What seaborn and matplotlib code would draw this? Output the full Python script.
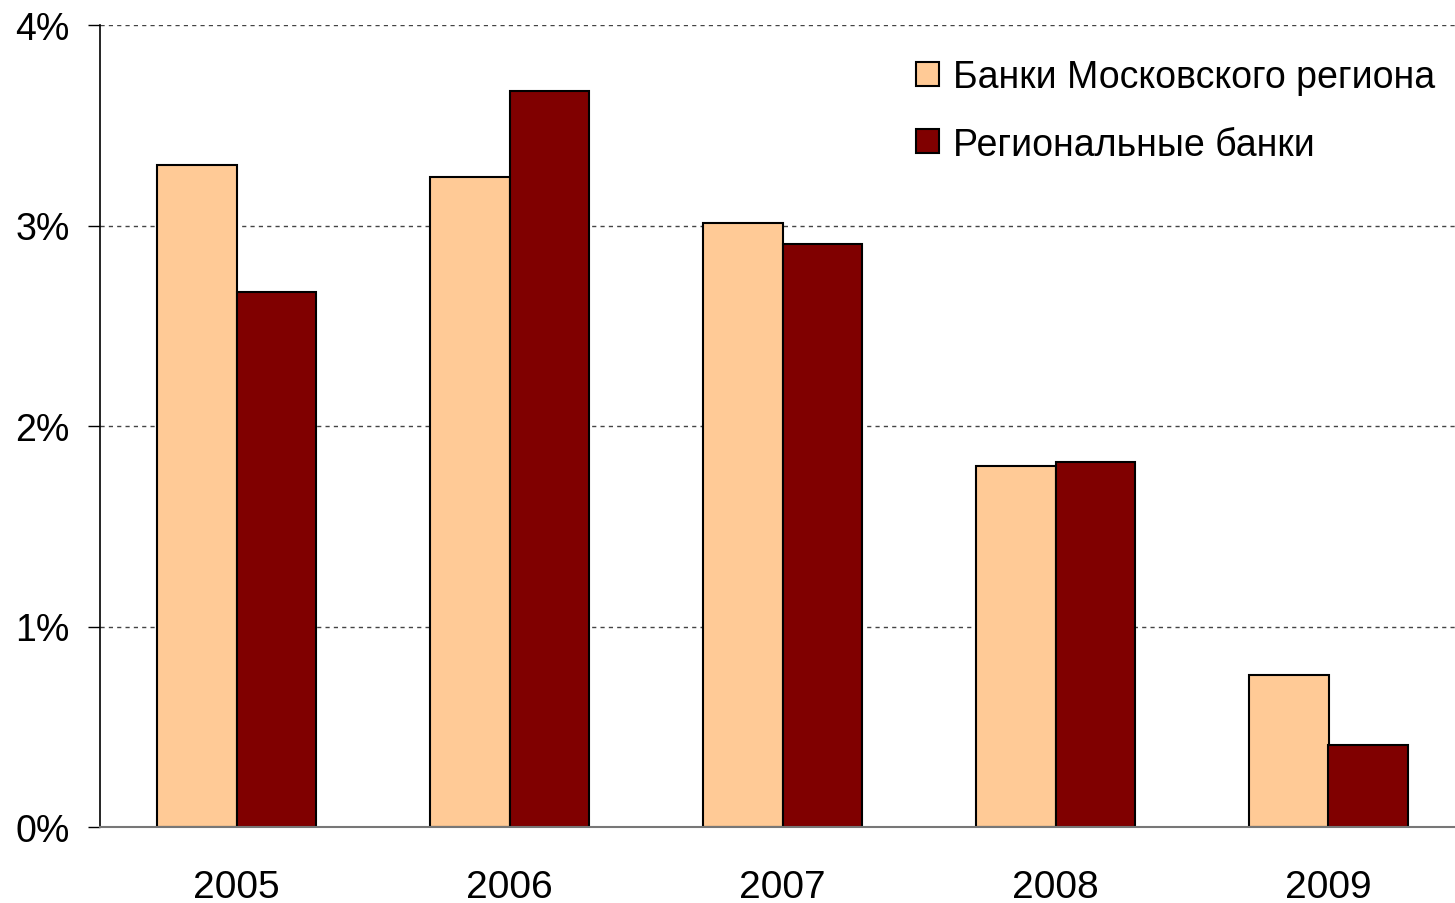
"""
Bank margin by region group, 2005-2009: grouped bar chart.
"""

import matplotlib.pyplot as plt
import pandas as pd
import seaborn as sns
from matplotlib.ticker import FuncFormatter

years = ["2005", "2006", "2007", "2008", "2009"]
moscow = [3.30, 3.24, 3.01, 1.80, 0.76]
regional = [2.67, 3.67, 2.91, 1.82, 0.41]
series_names = ["Банки Московского региона", "Региональные банки"]
colors = ["#FFCA96", "#800000"]

df = pd.DataFrame({
    "year": years * 2,
    "value": moscow + regional,
    "group": [series_names[0]] * len(years) + [series_names[1]] * len(years),
})

sns.set_style("white")
plt.rcParams["font.family"] = ["Liberation Sans", "DejaVu Sans"]
plt.rcParams["text.color"] = "black"

fig = plt.figure(figsize=(14.55, 9.04), dpi=100)
ax = fig.add_axes([100 / 1455, 76 / 904, 1365 / 1455, 802 / 904])

sns.barplot(data=df, x="year", y="value", hue="group", palette=colors,
            saturation=1, width=0.58, edgecolor="black", linewidth=1.5, ax=ax)

ax.set_xlim(-0.5, 4.5)
ax.set_ylim(0, 4)
ax.set_yticks([0, 1, 2, 3, 4])
ax.yaxis.set_major_formatter(FuncFormatter(lambda v, _: f"{v:.0f}%"))
ax.set_xlabel("")
ax.set_ylabel("")

for y in [1, 2, 3, 4]:
    ax.axhline(y, color="#444444", linestyle=(0, (3, 3)), linewidth=1, zorder=0)

for side in ["top", "right"]:
    ax.spines[side].set_visible(False)
ax.spines["left"].set_color("black")
ax.spines["left"].set_linewidth(1.2)
ax.spines["bottom"].set_color("#777777")
ax.spines["bottom"].set_linewidth(1.5)

ax.tick_params(axis="y", left=True, length=9, width=1, color="black",
               labelsize=27, labelcolor="black", pad=13)
ax.tick_params(axis="x", bottom=False, labelsize=28, labelcolor="black", pad=27)

leg = ax.legend(loc="upper left", bbox_to_anchor=(0.573, 1.0), frameon=False,
                fontsize=27, handlelength=0.61, handleheight=0.61,
                handletextpad=0.37, labelspacing=0.85)
for h in leg.legend_handles:
    h.set_edgecolor("black")
    h.set_linewidth(1.5)
for t in leg.get_texts():
    t.set_color("black")

fig.savefig("out.png", dpi=100)
